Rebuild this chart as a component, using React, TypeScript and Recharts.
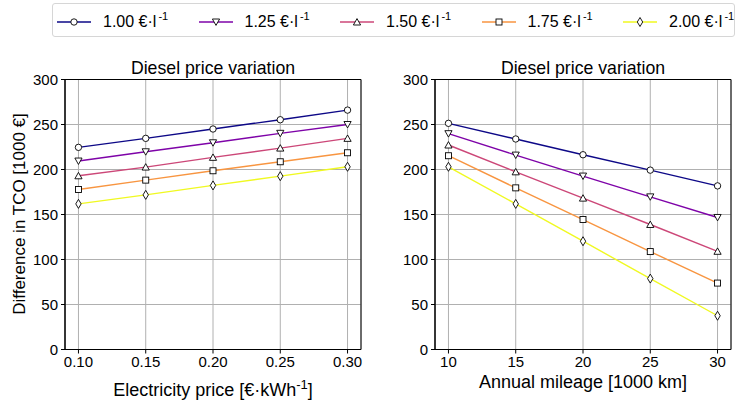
import React from "react";
import {
  LineChart,
  Line,
  XAxis,
  YAxis,
  CartesianGrid,
  ReferenceArea,
} from "recharts";

const FONT = '"Liberation Sans", Arial, sans-serif';

const elecPrice = [0.1, 0.15, 0.2, 0.25, 0.3];
const mileage = [10, 15, 20, 25, 30];
const dieselPrices = ["1.00", "1.25", "1.50", "1.75", "2.00"];
const colors = ["#0d0887", "#7e03a8", "#cc4778", "#f89540", "#f0f921"];
const shapes = ["circle", "triDown", "triUp", "square", "diamond"];
const yTicks = [0, 50, 100, 150, 200, 250, 300];

// TCO difference vs electricity price (mileage fixed)
const elec100 = [224.6, 234.6, 245, 255.3, 266];
const elec125 = [209.4, 219.7, 229.7, 240.2, 250];
const elec150 = [193, 202.7, 213.5, 223.8, 234.6];
const elec175 = [177.8, 188.2, 198.6, 208.6, 218.6];
const elec200 = [161.8, 171.8, 182.3, 192.6, 203];

// TCO difference vs annual mileage
const mile100 = [251.3, 233.9, 216.4, 199.3, 181.8];
const mile125 = [239.8, 216, 192.7, 169.6, 146.7];
const mile150 = [227.2, 197.4, 168.2, 138.9, 109.1];
const mile175 = [215.3, 179.6, 144.4, 108.8, 73.8];
const mile200 = [203, 161.8, 120.3, 78.8, 37.5];

const elecSeries = [elec100, elec125, elec150, elec175, elec200];
const mileSeries = [mile100, mile125, mile150, mile175, mile200];

const buildRows = (xs: number[], series: number[][]) =>
  xs.map((x, i) => {
    const row: any = { x };
    series.forEach((s, k) => {
      row["d" + k] = s[i];
    });
    return row;
  });

const Marker = ({ shape, cx, cy }) => {
  const st = { fill: "#fff", stroke: "#000", strokeWidth: 0.9 };
  if (shape === "circle") return <circle cx={cx} cy={cy} r={3.2} {...st} />;
  if (shape === "square")
    return <rect x={cx - 3} y={cy - 3} width={6} height={6} {...st} />;
  if (shape === "triDown")
    return (
      <polygon
        points={`${cx - 3.6},${cy - 3} ${cx + 3.6},${cy - 3} ${cx},${cy + 3.4}`}
        {...st}
      />
    );
  if (shape === "triUp")
    return (
      <polygon
        points={`${cx - 3.6},${cy + 3} ${cx + 3.6},${cy + 3} ${cx},${cy - 3.4}`}
        {...st}
      />
    );
  return (
    <polygon
      points={`${cx},${cy - 4.5} ${cx + 2.7},${cy} ${cx},${cy + 4.5} ${cx - 2.7},${cy}`}
      {...st}
    />
  );
};

const Panel = ({ rows, domain, ticks, fmt, left, width, xLabel, showYLabel }) => {
  const renderXLabel = (props) => {
    const vb = props.viewBox;
    return xLabel(vb.x + vb.width / 2, vb.y);
  };
  return (
    <div style={{ position: "absolute", left, top: 0 }}>
      <div
        style={{
          position: "absolute",
          left: 65,
          width: width - 65 - (left === 0 ? 9 : 6),
          top: 59.5,
          textAlign: "center",
          fontFamily: FONT,
          fontSize: 17.7,
          lineHeight: "16px",
          color: "#000",
          whiteSpace: "nowrap",
        }}
      >
        Diesel price variation
      </div>
      <LineChart
        width={width}
        height={405}
        data={rows}
        margin={{ top: 79.5, right: left === 0 ? 9 : 6, left: 15, bottom: 0 }}
      >
        <CartesianGrid stroke="#b0b0b0" strokeWidth={1} />
        <XAxis
          dataKey="x"
          type="number"
          domain={domain}
          ticks={ticks}
          tickFormatter={fmt}
          height={55.5}
          tickSize={4}
          tickMargin={3}
          stroke="#000"
          tick={{ fill: "#000", fontSize: 15, fontFamily: FONT }}
          label={{ content: renderXLabel }}
          allowDataOverflow
        />
        <YAxis
          type="number"
          domain={[0, 300]}
          ticks={yTicks}
          width={50}
          tickSize={4}
          tickMargin={3}
          stroke="#000"
          tick={{ fill: "#000", fontSize: 15, fontFamily: FONT }}
        />
        <ReferenceArea
          x1={domain[0]}
          x2={domain[1]}
          y1={0}
          y2={300}
          fill="none"
          stroke="#000"
          strokeWidth={1}
          ifOverflow="visible"
        />
        {dieselPrices.map((p, k) => (
          <Line
            key={p}
            type="linear"
            dataKey={"d" + k}
            stroke={colors[k]}
            strokeWidth={1.4}
            isAnimationActive={false}
            dot={(props) => (
              <Marker
                key={"m" + k + "-" + props.index}
                shape={shapes[k]}
                cx={props.cx}
                cy={props.cy}
              />
            )}
            activeDot={false}
          />
        ))}
      </LineChart>
      {showYLabel && (
        <svg
          width={40}
          height={405}
          style={{ position: "absolute", left: 0, top: 0 }}
        >
          <text
            x={25}
            y={214}
            transform="rotate(-90 25 214)"
            textAnchor="middle"
            fontFamily={FONT}
            fontSize={17}
            fill="#000"
          >
            Difference in TCO [1000 €]
          </text>
        </svg>
      )}
    </div>
  );
};

const Legend = () => (
  <div
    style={{
      position: "absolute",
      left: 52,
      top: 3,
      width: 683,
      height: 34,
      border: "1px solid #d6d6d6",
      borderRadius: 3,
      boxSizing: "border-box",
      fontFamily: FONT,
      color: "#000",
    }}
  >
    {dieselPrices.map((p, k) => (
      <div
        key={p}
        style={{
          position: "absolute",
          left: 4 + k * 141.5,
          top: 2,
          height: 32,
          display: "flex",
          alignItems: "center",
        }}
      >
        <svg width={34} height={12}>
          <line x1={0} y1={6} x2={34} y2={6} stroke={colors[k]} strokeWidth={1.4} />
          <Marker shape={shapes[k]} cx={17} cy={6} />
        </svg>
        <span style={{ marginLeft: 12, fontSize: 16, whiteSpace: "nowrap" }}>
          {p} €·l
          <span style={{ fontSize: 11, position: "relative", top: -7, marginLeft: 2 }}>
            -1
          </span>
        </span>
      </div>
    ))}
  </div>
);

export default function App() {
  const elecRows = buildRows(elecPrice, elecSeries);
  const mileRows = buildRows(mileage, mileSeries);
  return (
    <div
      style={{
        position: "absolute",
        left: 0,
        top: 0,
        width: 737,
        height: 405,
        background: "#fff",
        overflow: "hidden",
      }}
    >
      <Legend />
      <Panel
        rows={elecRows}
        domain={[0.09, 0.31]}
        ticks={elecPrice}
        fmt={(v) => v.toFixed(2)}
        left={0}
        width={370}
        showYLabel
        xLabel={(cx, y) => (
          <text
            x={cx}
            y={y + 46}
            textAnchor="middle"
            fontFamily={FONT}
            fontSize={18}
            fill="#000"
          >
            Electricity price [€·kWh
            <tspan dy={-7} fontSize={13}>
              -1
            </tspan>
            <tspan dy={7}>]</tspan>
          </text>
        )}
      />
      <Panel
        rows={mileRows}
        domain={[9, 31]}
        ticks={mileage}
        fmt={(v) => String(v)}
        left={370}
        width={367}
        showYLabel={false}
        xLabel={(cx, y) => (
          <text
            x={cx}
            y={y + 38}
            textAnchor="middle"
            fontFamily={FONT}
            fontSize={18}
            fill="#000"
          >
            Annual mileage [1000 km]
          </text>
        )}
      />
    </div>
  );
}
